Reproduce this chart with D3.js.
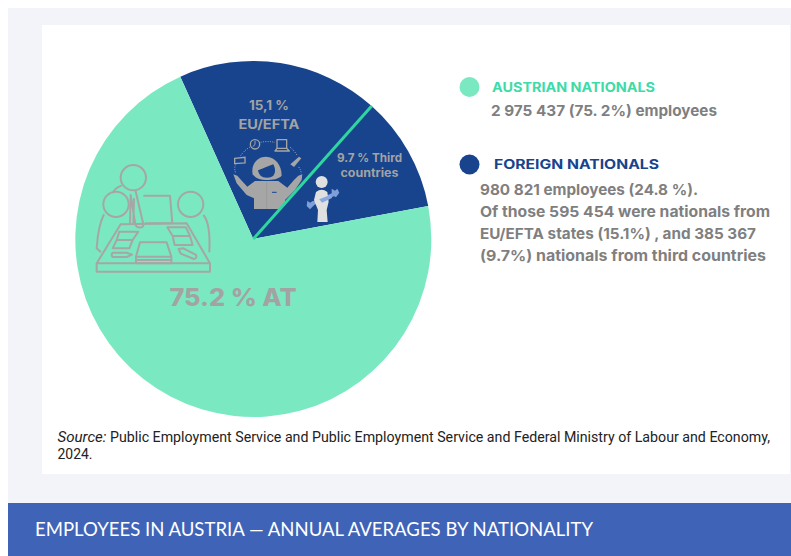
<!DOCTYPE html>
<html><head><meta charset="utf-8">
<script src="https://cdn.jsdelivr.net/npm/d3@7"></script>
<style>html,body{margin:0;padding:0;background:#fff}svg{display:block}</style></head>
<body><svg id="c" width="791" height="556"></svg>
<script>
// Slice labels and the shares as drawn in the picture (the drawn arcs differ from the printed percentages)
const categories = ["EU/EFTA", "Third countries", "Austrian nationals"];
const drawnShares = [18.3, 10.45, 71.25];
const sliceColors = ["#17448c", "#17448c", "#7ae9c1"];
const sliceLabels = [["15,1 %", "EU/EFTA"], ["9.7 % Third", "countries"], ["75.2 % AT"]];
const legendTitles = ["AUSTRIAN NATIONALS", "FOREIGN NATIONALS"];
const austrianText = ["2 975 437 (75. 2%) employees"];
const foreignText = ["980 821 employees (24.8 %).", "Of those 595 454 were nationals from", "EU/EFTA states (15.1%) , and 385 367", "(9.7%) nationals from third countries"];
const sourceLine1 = "Public Employment Service and Public Employment Service and Federal Ministry of Labour and Economy,";
const sourceLine2 = "2024.";
const titleText = "EMPLOYEES IN AUSTRIA — ANNUAL AVERAGES BY NATIONALITY";

const svg = d3.select("#c");
const F = "Inter, 'Open Sans', sans-serif";
const GREY = "#a3a3a3", TXT = "#7f7f7f";
svg.append("rect").attr("x",8).attr("y",8).attr("width",783).attr("height",495).attr("fill","#f3f4f9");
svg.append("rect").attr("x",42).attr("y",25).attr("width",748).attr("height",449).attr("fill","#fff");
svg.append("rect").attr("x",8).attr("y",503).attr("width",783).attr("height",53).attr("fill","#3f64b7");

// Pie
const cx=253.3, cy=239, R=178;
const startA = -24.2*Math.PI/180;
const pie = d3.pie().sort(null).startAngle(startA).endAngle(startA+2*Math.PI);
const arcs = pie(drawnShares);
const arc = d3.arc().innerRadius(0).outerRadius(R);
const g = svg.append("g").attr("transform",`translate(${cx},${cy})`);
g.selectAll("path").data(arcs).join("path").attr("d",arc).attr("fill",(d,i)=>sliceColors[i]);

// Clip for the woman icon: EU/EFTA slice only
svg.append("clipPath").attr("id","euClip").append("path")
  .attr("transform",`translate(${cx},${cy})`).attr("d",arc(arcs[0]));

function text(x,y,s,size,weight,fill,len,anchor,style,font){
  const t = svg.append("text").attr("x",x).attr("y",y).text(s).attr("font-family",font||F)
   .attr("font-size",size).attr("font-weight",weight).attr("fill",fill);
  if(anchor) t.attr("text-anchor",anchor);
  if(style) t.attr("font-style",style);
  if(len){t.attr("textLength",len).attr("lengthAdjust","spacingAndGlyphs");}
  return t;
}
// Slice labels
text(269,110,sliceLabels[0][0],12.5,700,GREY,40,"middle");
text(269,129,sliceLabels[0][1],13,700,GREY,61,"middle");
text(369.5,162,sliceLabels[1][0],11.5,700,GREY,65,"middle");
text(369.5,177,sliceLabels[1][1],11.5,700,GREY,58,"middle");
text(233,306,sliceLabels[2][0],24,800,"#a3a3a3",127,"middle");

// Meeting icon (decorative)
const m = svg.append("g").attr("transform","translate(90,155) scale(0.3333)")
  .attr("fill","none").attr("stroke","#a6a6a6").attr("stroke-width",6).attr("stroke-linejoin","round");
[[130,68,38],[78,148,38],[302,148,38]].forEach(c=>m.append("circle").attr("cx",c[0]).attr("cy",c[1]).attr("r",c[2]));
[
 "M20 325L92 208L290 205L360 325Z","M20 325V350H360V325",
 "M160 122H240L247 205H165",
 "M136 104L160 208C162 220 140 222 136 208L122 120L120 205M95 92C82 96 72 105 68 114M132 130L130 205",
 "M42 178C28 205 22 250 20 280L33 292M340 180C358 200 360 250 358 292",
 "M88 230H145L128 255H80ZM80 255H128L118 280H68Z",
 "M232 217H288L300 243H248ZM248 243H300L308 270H254Z",
 "M150 262H230L244 305V325H138V305ZM140 305H244M140 315H244",
 "M68 293H110L126 299L110 306H68Q62 300 68 293Z",
 "M266 282L280 280L318 300Q322 310 312 312L272 296Z"
].forEach(d=>m.append("path").attr("d",d));

// Woman icon (decorative)
const ICON = "#a6a6a6";
const wClip = svg.append("g").attr("clip-path","url(#euClip)");
const w = wClip.append("g").attr("transform","translate(230,135) scale(0.3333)");
w.append("path").attr("d","M16 112C12 95 16 90 20 84M32 62C40 50 50 42 60 36M92 22C105 19 120 19 135 22M180 36C190 44 197 54 202 62M206 96C212 104 214 110 213 116")
 .attr("fill","none").attr("stroke",ICON).attr("stroke-width",3).attr("stroke-dasharray","3 4");
w.append("circle").attr("cx",75).attr("cy",28).attr("r",14).attr("fill","none").attr("stroke",ICON).attr("stroke-width",4);
w.append("path").attr("d","M75 18V29L68 35").attr("fill","none").attr("stroke",ICON).attr("stroke-width",3);
w.append("path").attr("d","M141 14H170V40H141ZM135 48H178L170 40H141Z").attr("fill","none").attr("stroke",ICON).attr("stroke-width",4).attr("stroke-linejoin","round");
w.append("path").attr("d","M14 70L45 67V84L14 86Z").attr("fill","none").attr("stroke",ICON).attr("stroke-width",4);
w.append("path").attr("d","M181 88L207 65L214 70L192 96Z").attr("fill",ICON);
w.append("path").attr("d","M68 118C62 90 80 65 108 65C135 65 155 90 155 122C145 132 130 135 108 135C90 135 76 130 68 118Z").attr("fill",ICON);
w.append("path").attr("d","M10 118L22 122L38 140L52 155L75 138H145L172 158L192 135L205 122L217 118L215 135L195 165L178 182L165 195V222H72V190L50 180L20 145Z").attr("fill",ICON);
w.append("path").attr("d","M84 106C100 100 118 92 130 88C136 100 138 112 130 122C122 130 100 130 92 122C88 118 85 112 84 106Z").attr("fill","#17448c");
w.append("path").attr("d","M126 172H140").attr("stroke","#17448c").attr("stroke-width",3);
w.append("path").attr("d","M110 140V222").attr("stroke","#8f8f8f").attr("stroke-width",1.5);

// Divider between EU/EFTA and third countries
const a = arcs[0].endAngle;
svg.append("line").attr("transform",`translate(${cx},${cy})`)
 .attr("x1",0).attr("y1",0).attr("x2",R*Math.sin(a)).attr("y2",-R*Math.cos(a))
 .attr("stroke","#2fd6a0").attr("stroke-width",3);

// Worker icon (decorative)
const k = svg.append("g").attr("transform","translate(300,170) scale(0.3333)");
k.append("path").attr("d","M35 102L108 70").attr("stroke","#7f9fd9").attr("stroke-width",11).attr("fill","none");
k.append("path").attr("d","M22 92L30 98L40 92L42 106L30 118L20 108ZM95 56L105 62L112 56L118 68L108 82L95 74Z").attr("fill","#7f9fd9");
k.append("circle").attr("cx",65).attr("cy",36).attr("r",18).attr("fill","#e0e0e0");
k.append("path").attr("d","M48 66Q65 52 82 66L86 95L80 120L83 156H52L54 120L42 90Z").attr("fill","#e0e0e0");
k.append("path").attr("d","M58 88L92 74L96 84L66 98Z").attr("fill","#8aa8df");

// Legend
svg.append("circle").attr("cx",469.5).attr("cy",87).attr("r",10).attr("fill","#7ae9c1");
svg.append("circle").attr("cx",469.5).attr("cy",164.5).attr("r",10).attr("fill","#17448c");
text(492,91.5,legendTitles[0],13,700,"#3ddba8",163);
text(494,169,legendTitles[1],13,700,"#17448c",165);
text(491,116,austrianText[0],15,700,TXT,226);
const ys=[195,217,239,261], ws=[218,290,276,286];
foreignText.forEach((s,i)=>text(480,ys[i],s,15,700,TXT,ws[i]));

// Source
const R2 = "Roboto, sans-serif";
text(57.5,442,"Source:",14,400,"#222",49,null,"italic",R2);
text(110,442,sourceLine1,14,400,"#222",660,null,null,R2);
text(57.5,459,sourceLine2,14,400,"#222",35,null,null,R2);

// Title
svg.append("text").attr("x",35).attr("y",536).text(titleText).attr("font-family","Lato, 'Open Sans', sans-serif")
 .attr("font-size",20).attr("fill","#fff").attr("textLength",558).attr("lengthAdjust","spacingAndGlyphs");
</script></body></html>
